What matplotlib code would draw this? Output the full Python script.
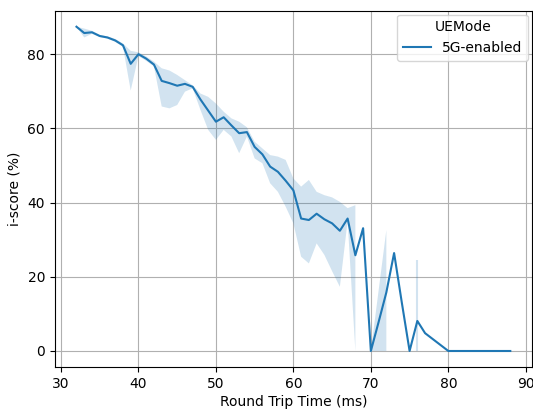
import numpy as np
import matplotlib
matplotlib.use("Agg")
import matplotlib.pyplot as plt

# Round trip time (ms) and mean i-score (%) for the 5G-enabled UE mode
rtt_ms = list(range(32, 89))
iscore_mean = [
    87.4, 85.7, 85.9, 84.9, 84.5, 83.7, 82.4, 77.4, 80.0, 78.8,
    77.2, 72.8, 72.2, 71.5, 72.0, 71.2, 67.8, 64.8, 61.8, 63.0,
    60.8, 58.7, 59.0, 55.0, 53.0, 49.7, 48.3, 45.9, 43.3, 35.7,
    35.3, 37.0, 35.5, 34.4, 32.4, 35.7, 25.8, 33.1, 0.0, 7.8,
    15.8, 26.4, 13.0, 0.0, 8.1, 4.8, 3.2, 1.6, 0.0, 0.0,
    0.0, 0.0, 0.0, 0.0, 0.0, 0.0, 0.0,
]

# 95% confidence interval bounds (nan where no interval is available)
nan = np.nan
ci_low = [
    87.4, 84.5, 85.5, 84.6, 84.2, 83.3, 82.0, 70.2, 79.5, 78.2,
    76.7, 65.9, 65.4, 66.3, 69.9, 70.8, 65.0, 59.6, 56.9, 59.6,
    57.8, 53.3, 57.8, 51.9, 50.6, 45.2, 42.9, 38.9, 34.4, 25.4,
    23.6, 29.0, 25.9, 21.5, 17.3, 35.0, 0.0, nan, 0.0, 0.0,
    0.0, nan, nan, nan, 0.0, nan, nan, nan, nan, nan,
    nan, nan, nan, nan, nan, nan, nan,
]
ci_high = [
    87.4, 86.9, 86.3, 85.2, 84.8, 84.1, 82.9, 80.9, 80.5, 79.4,
    78.0, 76.2, 75.6, 74.4, 73.0, 71.6, 69.4, 68.5, 66.7, 64.5,
    62.7, 61.8, 60.3, 56.4, 54.6, 52.8, 52.4, 51.5, 46.5, 44.3,
    46.1, 42.9, 42.0, 41.4, 40.2, 38.5, 39.3, nan, 0.0, 16.3,
    32.6, nan, nan, nan, 24.5, nan, nan, nan, nan, nan,
    nan, nan, nan, nan, nan, nan, nan,
]

color = "#1f77b4"

fig = plt.figure(figsize=(5.33, 4.09), dpi=100)
ax = fig.add_axes([0.1028, 0.1022, 0.8953, 0.8721])

x = np.array(rtt_ms, dtype=float)
lo = np.array(ci_low, dtype=float)
hi = np.array(ci_high, dtype=float)

ax.fill_between(x, lo, hi, color=color, alpha=0.2, linewidth=0)

# intervals at isolated points show up as thin vertical slivers
valid = np.isfinite(lo) & np.isfinite(hi)
for i in range(len(x)):
    left_ok = i > 0 and valid[i - 1]
    right_ok = i < len(x) - 1 and valid[i + 1]
    if valid[i] and not left_ok and not right_ok:
        ax.vlines(x[i], lo[i], hi[i], color=color, alpha=0.2, linewidth=1.5)

ax.plot(x, iscore_mean, color=color, linewidth=1.5, label="5G-enabled")

ax.set_xticks([30, 40, 50, 60, 70, 80, 90])
ax.set_yticks([0, 20, 40, 60, 80])
ax.grid(True, color="#b0b0b0", linewidth=0.8)
ax.set_axisbelow(True)
ax.set_xlabel("Round Trip Time (ms)", labelpad=3)
ax.set_ylabel("i-score (%)")
ax.legend(title="UEMode", loc="upper right", borderaxespad=0.3)

fig.savefig("out.png", dpi=100)
